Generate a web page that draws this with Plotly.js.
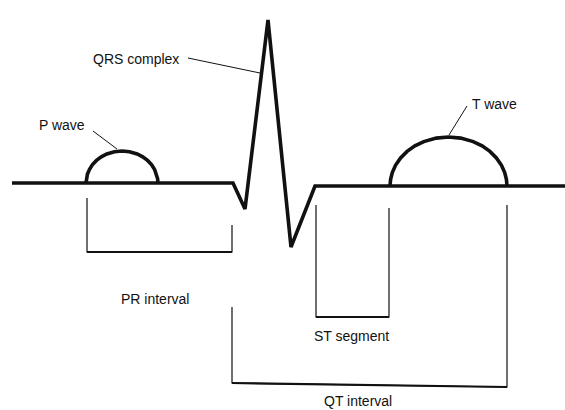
<!DOCTYPE html>
<html>
<head>
<meta charset="utf-8">
<script src="https://cdn.plot.ly/plotly-3.0.1.min.js"></script>
<style>html,body{margin:0;padding:0;background:#fff;}#chart{width:565px;height:410px;}</style>
</head>
<body>
<div id="chart"></div>
<script>
// ECG trace (time units, amplitude units; baseline = 0)
const baseX   = [12, 86, 158, 233, 245, 268, 291, 315, 390, 507, 565];
const baseAmp = [0, 0, 0, 0, -26, 163, -64, -3, -3, -3, -3];
// P wave dome
const pX   = [86, 86.4, 87.4, 89.4, 92.5, 96.5, 101.3, 106.8, 114.5, 122, 129.5, 137.2, 142.7, 147.5, 151.5, 154.6, 156.6, 157.6, 158];
const pAmp = [0, 4.4, 8.8, 13.5, 18.4, 22.6, 26.2, 29, 31.3, 32, 31.3, 29, 26.2, 22.6, 18.4, 13.5, 8.8, 4.4, 0];
// T wave dome
const tX   = [390, 390.6, 392.3, 395.5, 400.6, 407.1, 414.9, 423.8, 436.3, 448.5, 460.7, 473.2, 482.1, 489.9, 496.4, 501.5, 504.7, 506.4, 507];
const tAmp = [-3, 3.8, 10.5, 17.7, 25.1, 31.6, 37.1, 41.4, 44.9, 46, 44.9, 41.4, 37.1, 31.6, 25.1, 17.7, 10.5, 3.8, -3];

// Interval brackets: [x-left, x-right], [left top, bottom-left, bottom-right, right top]
const bracketNames = ["PR interval", "ST segment", "QT interval"];
const bracketX     = [[87, 232], [316, 389], [232, 507]];
const bracketAmp   = [[-15, -69, -69, -42], [-22, -134, -134, -25], [-124, -200, -204, -22]];

// Wave labels and leader lines
const waveLabels = ["QRS complex", "P wave", "T wave"];
const leaderX    = [[188, 260], [93, 117], [467, 449]];
const leaderAmp  = [[125, 110], [52, 34], [77, 48]];

const ink = '#111111';
const traces = [];
traces.push({x: baseX, y: baseAmp, mode: 'lines', line: {color: ink, width: 3.6, shape: 'linear'}, hoverinfo: 'skip'});
traces.push({x: pX, y: pAmp, mode: 'lines', line: {color: ink, width: 3.6}, hoverinfo: 'skip'});
traces.push({x: tX, y: tAmp, mode: 'lines', line: {color: ink, width: 3.6}, hoverinfo: 'skip'});

bracketX.forEach((bx, i) => {
  const ba = bracketAmp[i];
  traces.push({x: [bx[0], bx[0], bx[1], bx[1]], y: [ba[0], ba[1], ba[2], ba[3]],
    mode: 'lines', line: {color: ink, width: 1.2}, hoverinfo: 'skip', name: bracketNames[i]});
  traces.push({x: [bx[0], bx[1]], y: [ba[1], ba[2]],
    mode: 'lines', line: {color: ink, width: 2.2}, hoverinfo: 'skip'});
});
leaderX.forEach((lx, i) => {
  traces.push({x: lx, y: leaderAmp[i], mode: 'lines', line: {color: ink, width: 1}, hoverinfo: 'skip', name: waveLabels[i]});
});

const font = {family: 'Liberation Sans, Arial, sans-serif', size: 14, color: ink};
const annotations = [
  {text: waveLabels[0], x: 91, y: 124, xanchor: 'left', yanchor: 'middle'},
  {text: waveLabels[1], x: 37, y: 58, xanchor: 'left', yanchor: 'middle'},
  {text: waveLabels[2], x: 470, y: 79, xanchor: 'left', yanchor: 'middle'},
  {text: bracketNames[0], x: 155, y: -116, xanchor: 'center', yanchor: 'middle'},
  {text: bracketNames[1], x: 351, y: -153, xanchor: 'center', yanchor: 'middle'},
  {text: bracketNames[2], x: 358, y: -218, xanchor: 'center', yanchor: 'middle'}
].map(a => Object.assign({xref: 'x', yref: 'y', showarrow: false, font: font}, a));

const layout = {
  width: 565, height: 410,
  margin: {l: 0, r: 0, t: 0, b: 0, pad: 0},
  paper_bgcolor: '#ffffff', plot_bgcolor: '#ffffff',
  showlegend: false,
  xaxis: {range: [0, 565], visible: false, showgrid: false, zeroline: false, fixedrange: true},
  yaxis: {range: [-227, 183], visible: false, showgrid: false, zeroline: false, fixedrange: true},
  annotations: annotations
};
Plotly.newPlot('chart', traces, layout, {staticPlot: true, displayModeBar: false});
</script>
</body>
</html>
